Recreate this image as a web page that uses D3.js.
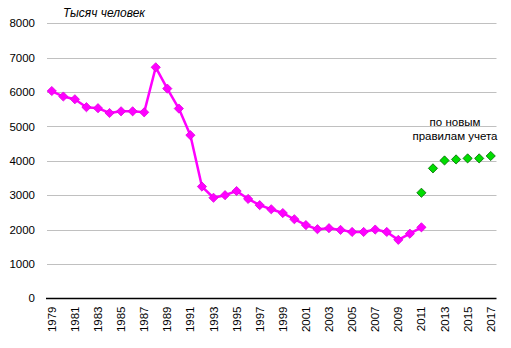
<!DOCTYPE html>
<html><head><meta charset="utf-8">
<script src="https://cdn.jsdelivr.net/npm/d3@7"></script>
<style>body{margin:0;background:#fff}svg{display:block}text{font-family:"Liberation Sans",Arial,sans-serif}</style>
</head><body><svg id="c" width="511" height="348"></svg>
<script>
const years = d3.range(1979, 2018).map(String);
const oldYears = d3.range(1979, 2012).map(String);
const oldValues = [6030,5870,5790,5560,5530,5390,5440,5440,5410,6720,6100,5520,4745,3250,2925,3000,3120,2890,2710,2590,2480,2300,2130,2010,2040,1990,1930,1930,2000,1930,1700,1880,2065];
const newYears = ["2011","2012","2013","2014","2015","2016","2017"];
const newValues = [3070,3780,4010,4040,4070,4070,4140];
const yTicks = [0,1000,2000,3000,4000,5000,6000,7000,8000];
const labelYears = years.filter((d,i)=>i%2===0);

(function(){
const svg = d3.select("#c");
const pL = 46, pR = 496.5, pT = 23.3, pB = 298.3;
const x = d3.scaleBand().domain(years).range([pL, pR]);
const cx = d => x(d) + x.bandwidth()/2;
const y = d3.scaleLinear().domain([0, 8000]).range([pB, pT]);

svg.append("g").selectAll("line").data(yTicks.filter(d=>d>0)).join("line")
  .attr("x1", pL+1).attr("x2", pR).attr("y1", d=>Math.round(y(d))+0.5).attr("y2", d=>Math.round(y(d))+0.5)
  .attr("stroke", "#c0c0c0").attr("stroke-width", 1);

const ya = svg.append("g").attr("transform", `translate(${pL},0)`)
  .call(d3.axisLeft(y).tickValues(yTicks).tickSize(0).tickPadding(11).tickFormat(d3.format("d")));
ya.select(".domain").remove();
ya.selectAll("text").attr("font-size", 11.5).attr("fill", "#000").attr("font-family", '"Liberation Sans",Arial,sans-serif');

const xa = svg.append("g").attr("transform", `translate(0,${Math.round(pB)+0.5})`)
  .call(d3.axisBottom(x).tickValues(labelYears).tickSize(0));
xa.select(".domain").attr("stroke", "#000").attr("stroke-width", 1.3).attr("d", `M${pL},0H${pR}`);
xa.selectAll("text").attr("font-size", 11.5).attr("fill", "#000").attr("font-family", '"Liberation Sans",Arial,sans-serif')
  .attr("transform", "rotate(-90)").attr("text-anchor", "end").attr("dy", "0.35em").attr("x", -8).attr("y", 0);

const line = d3.line().x((d,i)=>cx(oldYears[i])).y(d=>y(d));
svg.append("path").datum(oldValues).attr("d", line).attr("fill", "none")
  .attr("stroke", "#ff00ff").attr("stroke-width", 2.5).attr("stroke-linejoin", "round");

const diamond = d3.symbol().type(d3.symbolDiamond2).size(54);
svg.append("g").selectAll("path").data(oldValues).join("path")
  .attr("d", diamond).attr("transform", (d,i)=>`translate(${cx(oldYears[i])},${y(d)})`)
  .attr("fill", "#ff00ff").attr("stroke", "#e000e0").attr("stroke-width", 0.8);

svg.append("g").selectAll("path").data(newValues).join("path")
  .attr("d", diamond).attr("transform", (d,i)=>`translate(${cx(newYears[i])},${y(d)})`)
  .attr("fill", "#00dd00").attr("stroke", "#006600").attr("stroke-width", 0.8);

svg.append("text").attr("x", 63).attr("y", 17).attr("font-size", 12).attr("font-style", "italic").text("Тысяч человек");
svg.append("text").attr("x", 455).attr("y", 126).attr("font-size", 11.5).attr("text-anchor", "middle").text("по новым");
svg.append("text").attr("x", 455).attr("y", 139.5).attr("font-size", 11.5).attr("text-anchor", "middle").text("правилам учета");
})();
</script></body></html>
